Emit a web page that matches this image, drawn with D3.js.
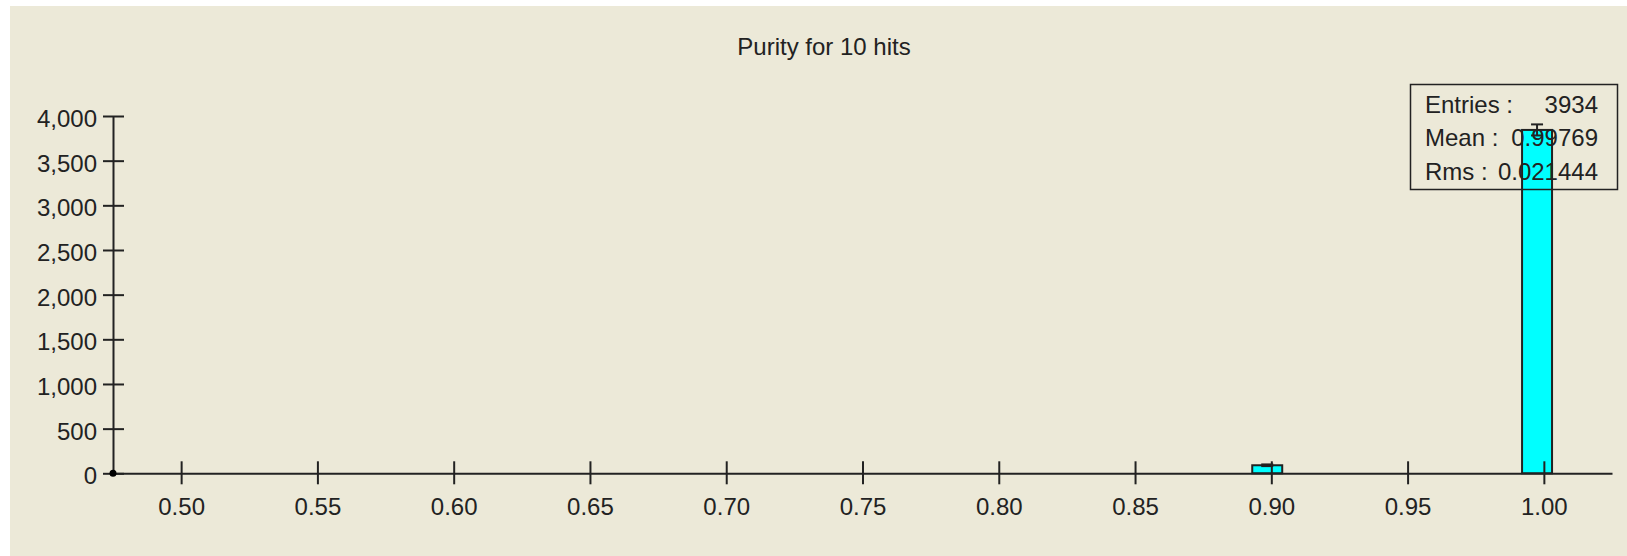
<!DOCTYPE html>
<html>
<head>
<meta charset="utf-8">
<script src="https://cdn.jsdelivr.net/npm/d3@7"></script>
<style>
  html, body { margin: 0; padding: 0; background: #ffffff; }
  svg { display: block; }
  text { font-family: "Liberation Sans", Arial, sans-serif; }
</style>
</head>
<body>
<svg id="chart" width="1627" height="556"></svg>
<script>
// ---- data ----
const title = "Purity for 10 hits";
const binStarts = [0.893, 0.992];
const binWidth = 0.011;
const binCounts = [90, 3844];
const xDomain = [0.475, 1.025];
const yDomain = [0, 4000];
const xTicks = [0.50, 0.55, 0.60, 0.65, 0.70, 0.75, 0.80, 0.85, 0.90, 0.95, 1.00];
const yTicks = [0, 500, 1000, 1500, 2000, 2500, 3000, 3500, 4000];
const statLabels = ["Entries :", "Mean :", "Rms :"];
const statValues = ["3934", "0.99769", "0.021444"];

// ---- layout ----
const W = 1627, H = 556;
const bg = "#ECE9D8";
const ink = "#222222";
const svg = d3.select("#chart");

svg.append("rect").attr("x", 10).attr("y", 6).attr("width", W - 10).attr("height", H - 6).attr("fill", bg);

const x = d3.scaleLinear().domain(xDomain).range([113, 1612]);
const y = d3.scaleLinear().domain(yDomain).range([473.3, 116]);

// title
svg.append("text").attr("x", 824).attr("y", 55).attr("text-anchor", "middle")
  .attr("font-size", 24).attr("fill", ink).text(title);

// bars
const bins = binStarts.map((s, i) => ({ x0: s, x1: s + binWidth, n: binCounts[i] }));
svg.append("g").selectAll("rect").data(bins).join("rect")
  .attr("x", d => x(d.x0)).attr("y", d => y(d.n))
  .attr("width", d => x(d.x1) - x(d.x0)).attr("height", d => y(0) - y(d.n))
  .attr("fill", "#00FFFF").attr("stroke", ink).attr("stroke-width", 2);

// error bars
const eb = svg.append("g").attr("stroke", ink).attr("stroke-width", 2);
bins.forEach(d => {
  const cx = x((d.x0 + d.x1) / 2);
  const e = Math.sqrt(d.n);
  eb.append("line").attr("x1", cx).attr("x2", cx).attr("y1", y(d.n + e)).attr("y2", y(d.n - e));
  eb.append("line").attr("x1", cx - 6).attr("x2", cx + 6).attr("y1", y(d.n + e)).attr("y2", y(d.n + e));
  eb.append("line").attr("x1", cx - 6).attr("x2", cx + 6).attr("y1", y(d.n - e)).attr("y2", y(d.n - e));
});

// axes
const yAxis = d3.axisLeft(y).tickValues(yTicks).tickFormat(d3.format(",")).tickSize(10).tickSizeOuter(0).tickPadding(6);
const gy = svg.append("g").attr("transform", "translate(113,0)").call(yAxis);
gy.selectAll(".tick line").attr("x1", 11).attr("x2", -10);

const xAxis = d3.axisBottom(x).tickValues(xTicks).tickFormat(d3.format(".2f")).tickSize(11).tickSizeOuter(0).tickPadding(14);
const gx = svg.append("g").attr("transform", "translate(0,473.3)").call(xAxis);
gx.selectAll(".tick line").attr("y1", -12).attr("y2", 11);

[gx, gy].forEach(g => {
  g.select(".domain").attr("stroke", ink).attr("stroke-width", 2);
  g.selectAll(".tick line").attr("stroke", ink).attr("stroke-width", 2);
  g.selectAll(".tick text").attr("fill", ink).attr("font-size", 24)
    .attr("font-family", "'Liberation Sans', Arial, sans-serif");
});
gy.selectAll(".tick text").attr("dy", "0.44em");

// origin dot
svg.append("circle").attr("cx", x(xDomain[0])).attr("cy", y(0)).attr("r", 3.5).attr("fill", "#000");

// stats box
const box = svg.append("g");
box.append("rect").attr("x", 1410.5).attr("y", 84.5).attr("width", 207).attr("height", 105)
  .attr("fill", "none").attr("stroke", ink).attr("stroke-width", 1.5);
const baselines = [113, 146, 180];
statLabels.forEach((l, i) => {
  box.append("text").attr("x", 1425).attr("y", baselines[i]).attr("font-size", 24).attr("fill", ink).text(l);
  box.append("text").attr("x", 1598).attr("y", baselines[i]).attr("text-anchor", "end").attr("font-size", 24).attr("fill", ink).text(statValues[i]);
});
</script>
</body>
</html>
